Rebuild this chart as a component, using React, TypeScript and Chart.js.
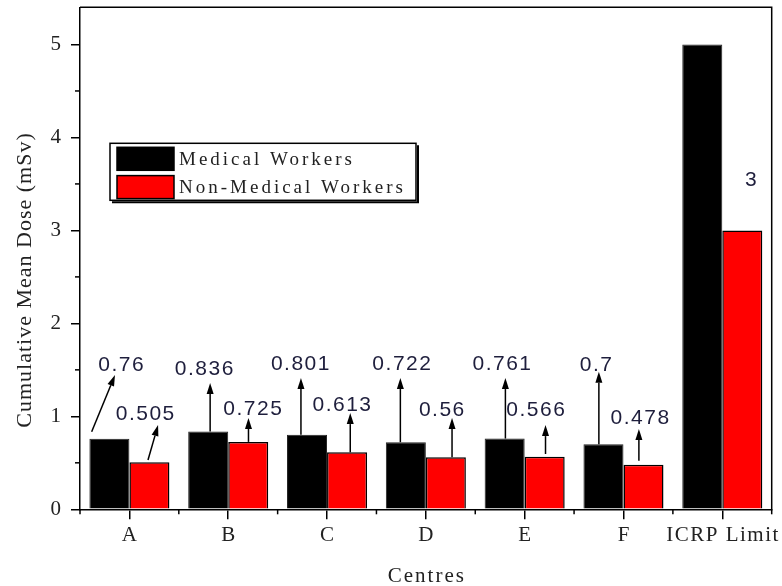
import React, { useEffect, useRef } from 'react';
import { Chart, registerables } from 'chart.js';

Chart.register(...registerables);

const categories = ['A', 'B', 'C', 'D', 'E', 'F', 'ICRP Limit'];
const medicalWorkers = [0.76, 0.836, 0.801, 0.722, 0.761, 0.7, 5];
const nonMedicalWorkers = [0.505, 0.725, 0.613, 0.56, 0.566, 0.478, 3];
const medicalLabels = ['0.76', '0.836', '0.801', '0.722', '0.761', '0.7', ''];
const nonMedicalLabels = ['0.505', '0.725', '0.613', '0.56', '0.566', '0.478', '3'];
const seriesNames = ['Medical Workers', 'Non-Medical Workers'];
const yMax = 5.4;

const SERIF = '"Liberation Serif", "Times New Roman", serif';
const SANS = '"Liberation Sans", Arial, sans-serif';

// annotation placement: label offset (category units) and y value; arrow [x0, v0, x1, v1]
type Ann = { dx: number; v: number; a?: [number, number, number, number] };
const medicalAnn: (Ann | null)[] = [
  { dx: -0.085, v: 1.553, a: [-0.382, 0.834, -0.146, 1.444] },
  { dx: -0.244, v: 1.509, a: [-0.183, 0.836, -0.183, 1.358] },
  { dx: -0.272, v: 1.562, a: [-0.264, 0.801, -0.264, 1.412] },
  { dx: -0.245, v: 1.562, a: [-0.258, 0.722, -0.258, 1.412] },
  { dx: -0.232, v: 1.562, a: [-0.195, 0.761, -0.195, 1.412] },
  { dx: -0.28, v: 1.553, a: [-0.249, 0.7, -0.249, 1.48] },
  null,
];
const nonMedicalAnn: (Ann | null)[] = [
  { dx: 0.158, v: 1.02, a: [0.188, 0.53, 0.29, 0.906] },
  { dx: 0.247, v: 1.078, a: [0.205, 0.725, 0.205, 0.982] },
  { dx: 0.149, v: 1.115, a: [0.235, 0.613, 0.235, 1.035] },
  { dx: 0.159, v: 1.068, a: [0.265, 0.56, 0.265, 0.982] },
  { dx: 0.11, v: 1.068, a: [0.211, 0.595, 0.211, 0.906] },
  { dx: 0.166, v: 0.982, a: [0.156, 0.523, 0.156, 0.863] },
  { dx: 0.288, v: 3.54 },
];

function drawArrow(ctx: CanvasRenderingContext2D, x0: number, y0: number, x1: number, y1: number) {
  const ang = Math.atan2(y1 - y0, x1 - x0);
  const len = 11;
  const w = 3.5;
  const bx = x1 - Math.cos(ang) * len;
  const by = y1 - Math.sin(ang) * len;
  ctx.beginPath();
  ctx.moveTo(x0, y0);
  ctx.lineTo(bx, by);
  ctx.stroke();
  ctx.beginPath();
  ctx.moveTo(x1, y1);
  ctx.lineTo(bx + Math.sin(ang) * w, by - Math.cos(ang) * w);
  ctx.lineTo(bx - Math.sin(ang) * w, by + Math.cos(ang) * w);
  ctx.closePath();
  ctx.fill();
}

const customPlugin = {
  id: 'customDecor',
  afterDraw(chart: any) {
    const { ctx, chartArea: ca, scales } = chart;
    const x = scales.x;
    const y = scales.y;
    const step = x.getPixelForValue(1) - x.getPixelForValue(0);
    ctx.save();
    ctx.strokeStyle = '#000';
    ctx.fillStyle = '#000';
    ctx.lineWidth = 1.5;
    // frame top / right
    ctx.beginPath();
    ctx.moveTo(ca.left, ca.top);
    ctx.lineTo(ca.right, ca.top);
    ctx.lineTo(ca.right, ca.bottom);
    ctx.stroke();
    // minor y ticks
    for (let v = 0.5; v < yMax; v += 1) {
      const py = y.getPixelForValue(v);
      ctx.beginPath();
      ctx.moveTo(ca.left - 5, py);
      ctx.lineTo(ca.left, py);
      ctx.stroke();
    }
    // minor x ticks at category boundaries
    for (let i = 0; i <= categories.length; i++) {
      const px = x.getPixelForValue(0) + (i - 0.5) * step;
      ctx.beginPath();
      ctx.moveTo(px, ca.bottom);
      ctx.lineTo(px, ca.bottom + 5);
      ctx.stroke();
    }
    // x tick labels
    ctx.fillStyle = '#222';
    ctx.font = `21px ${SERIF}`;
    ctx.textAlign = 'center';
    ctx.textBaseline = 'middle';
    (ctx as any).letterSpacing = '1.5px';
    categories.forEach((c, i) => {
      ctx.fillText(c, x.getPixelForValue(i) + 0.75, ca.bottom + 26);
    });
    // x title
    (ctx as any).letterSpacing = '2px';
    ctx.fillText('Centres', (ca.left + ca.right) / 2 + 1, ca.bottom + 67);
    // y title
    ctx.save();
    ctx.translate(25, 280);
    ctx.rotate(-Math.PI / 2);
    ctx.font = `22px ${SERIF}`;
    (ctx as any).letterSpacing = '1px';
    ctx.fillText('Cumulative Mean Dose (mSv)', 0, 0);
    ctx.restore();

    // annotations
    ctx.font = `21px ${SANS}`;
    (ctx as any).letterSpacing = '1.5px';
    const drawAnn = (anns: (Ann | null)[], labels: string[]) => {
      anns.forEach((a, i) => {
        if (!a) return;
        const cx = x.getPixelForValue(i);
        if (a.a) {
          ctx.strokeStyle = '#000';
          ctx.fillStyle = '#000';
          ctx.lineWidth = 1.5;
          drawArrow(
            ctx,
            cx + a.a[0] * step,
            y.getPixelForValue(a.a[1]),
            cx + a.a[2] * step,
            y.getPixelForValue(a.a[3])
          );
        }
        ctx.fillStyle = '#1e1e3c';
        ctx.fillText(labels[i], cx + a.dx * step + 0.75, y.getPixelForValue(a.v));
      });
    };
    drawAnn(medicalAnn, medicalLabels);
    drawAnn(nonMedicalAnn, nonMedicalLabels);

    // legend
    const lx = ca.left + 30;
    const ly = ca.top + 136;
    const lw = 306;
    const lh = 57;
    ctx.fillStyle = '#fff';
    ctx.fillRect(lx, ly, lw, lh);
    ctx.strokeStyle = '#000';
    ctx.lineWidth = 1.5;
    ctx.strokeRect(lx, ly, lw, lh);
    ctx.lineWidth = 2;
    ctx.beginPath();
    ctx.moveTo(lx + 2, ly + lh + 2);
    ctx.lineTo(lx + lw + 2, ly + lh + 2);
    ctx.lineTo(lx + lw + 2, ly + 2);
    ctx.stroke();
    const swatchColors = ['#000000', '#ff0000'];
    ctx.font = `19px ${SERIF}`;
    (ctx as any).letterSpacing = '3px';
    ctx.textAlign = 'left';
    seriesNames.forEach((name, k) => {
      const sy = ly + 4 + k * 28.3;
      ctx.fillStyle = swatchColors[k];
      ctx.fillRect(lx + 7, sy, 57, 23);
      ctx.strokeStyle = '#000';
      ctx.lineWidth = 1.5;
      ctx.strokeRect(lx + 7, sy, 57, 23);
      ctx.fillStyle = '#222';
      ctx.fillText(name, lx + 69, sy + 12.5);
    });
    (ctx as any).letterSpacing = '0px';
    ctx.restore();
  },
};

export default function App() {
  const ref = useRef<HTMLCanvasElement>(null);
  useEffect(() => {
    if (!ref.current) return;
    const chart = new Chart(ref.current, {
      type: 'bar',
      data: {
        labels: categories,
        datasets: [
          {
            label: seriesNames[0],
            data: medicalWorkers,
            backgroundColor: '#000000',
            borderColor: '#222',
            borderWidth: 1,
            categoryPercentage: 0.81,
            barPercentage: 1,
          },
          {
            label: seriesNames[1],
            data: nonMedicalWorkers,
            backgroundColor: '#ff0000',
            borderColor: '#000',
            borderWidth: 1.5,
            categoryPercentage: 0.81,
            barPercentage: 1,
          },
        ],
      },
      options: {
        responsive: false,
        animation: false,
        layout: { padding: { top: 7.3, right: 10.3, left: 0, bottom: 0 } },
        plugins: {
          legend: { display: false },
          tooltip: { enabled: false },
          title: { display: false },
        },
        scales: {
          x: {
            type: 'category',
            offset: true,
            grid: {
              display: true,
              drawOnChartArea: false,
              drawTicks: true,
              tickLength: 10,
              offset: false,
              color: '#000',
              lineWidth: 1.5,
            },
            border: { display: true, color: '#000', width: 1.5 },
            ticks: { display: false },
            afterFit: (s: any) => {
              s.height = 76.7;
              s.paddingLeft = 0;
              s.paddingRight = 0;
            },
          },
          y: {
            min: 0,
            max: yMax,
            grid: {
              display: true,
              drawOnChartArea: false,
              drawTicks: true,
              tickLength: 9,
              color: '#000',
              lineWidth: 1.5,
            },
            border: { display: true, color: '#000', width: 1.5 },
            ticks: {
              stepSize: 1,
              includeBounds: false,
              padding: 10,
              color: '#222',
              font: { family: SERIF, size: 21 },
            },
            afterFit: (s: any) => {
              s.width = 80;
              s.paddingTop = 0;
              s.paddingBottom = 0;
            },
          },
        },
      },
      plugins: [customPlugin],
    });
    return () => chart.destroy();
  }, []);
  return (
    <div style={{ position: 'absolute', left: 0, top: 0, width: 782, height: 586 }}>
      <canvas ref={ref} width={782} height={586} style={{ display: 'block', background: '#fff' }} />
    </div>
  );
}
